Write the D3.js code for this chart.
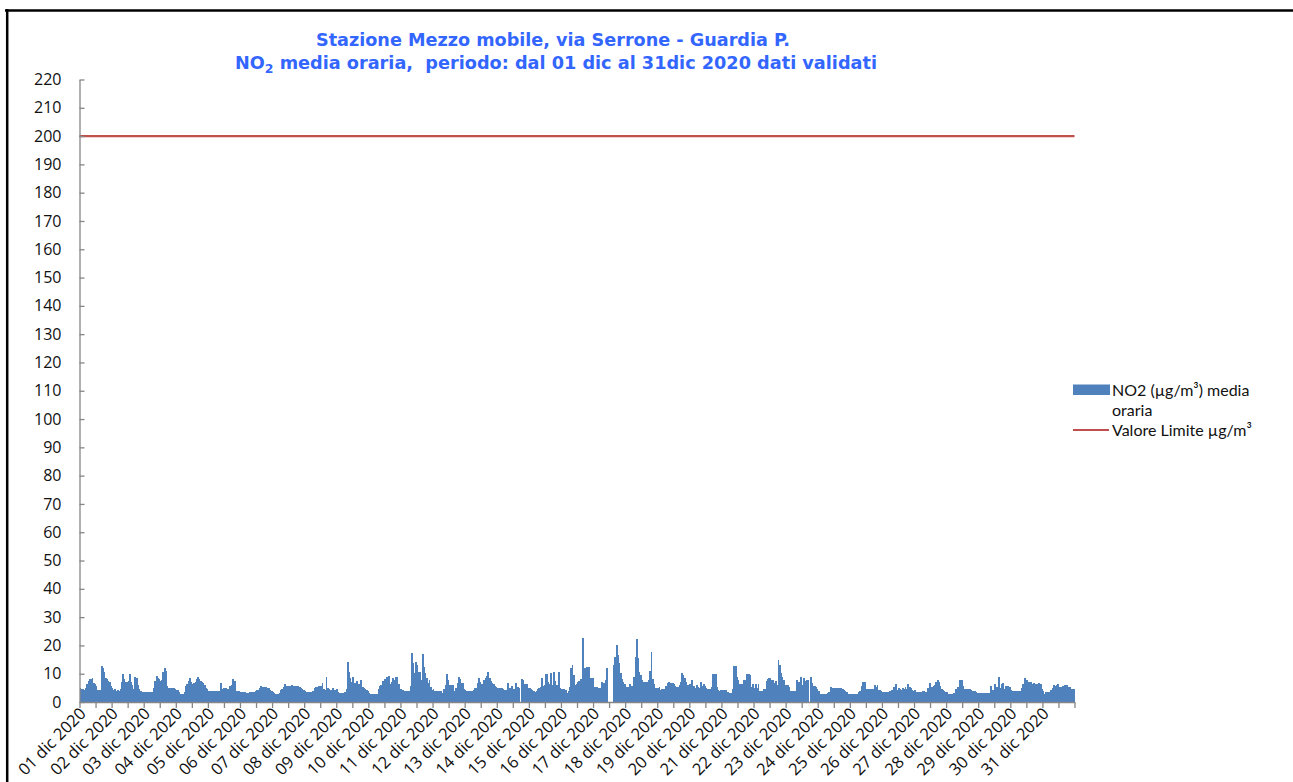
<!DOCTYPE html>
<html>
<head>
<meta charset="utf-8">
<script src="https://cdn.jsdelivr.net/npm/d3@7"></script>
<style>
  html, body { margin: 0; padding: 0; background: #fff; }
  svg { display: block; }
  text { white-space: pre; }
</style>
</head>
<body>
<svg id="chart" width="1293" height="782"></svg>
<script>
// ---------------- DATA ----------------
const titleLine1 = "Stazione Mezzo mobile, via Serrone - Guardia P.";
const titleLine2a = "NO";
const titleLine2sub = "2";
const titleLine2b = " media oraria,  periodo: dal 01 dic al 31dic 2020 dati validati";

const dayLabels = ["01 dic 2020","02 dic 2020","03 dic 2020","04 dic 2020","05 dic 2020","06 dic 2020",
  "07 dic 2020","08 dic 2020","09 dic 2020","10 dic 2020","11 dic 2020","12 dic 2020","13 dic 2020",
  "14 dic 2020","15 dic 2020","16 dic 2020","17 dic 2020","18 dic 2020","19 dic 2020","20 dic 2020",
  "21 dic 2020","22 dic 2020","23 dic 2020","24 dic 2020","25 dic 2020","26 dic 2020","27 dic 2020",
  "28 dic 2020","29 dic 2020","30 dic 2020","31 dic 2020"];

const yTickValues = [0,10,20,30,40,50,60,70,80,90,100,110,120,130,140,150,160,170,180,190,200,210,220];

const limitValue = 200;   // Valore Limite µg/m³
const seriesName = "NO2 (µg/m³) media";
const seriesName2 = "oraria";
const limitName = "Valore Limite µg/m³";

// NO2 hourly means (µg/m³), one row per day, 24 hours each (null = missing)
const no2ByDay = [
  [4.8,4.5,4.5,4.3,5,6.5,7.5,8,8.3,8.6,6.8,6.5,5.5,4.2,4.2,4.4,12.8,12,10.5,8.5,8,7.5,7,5.5],
  [5,4.2,4.5,4,4.3,4,4.5,7,10,8,7.2,7.2,7.5,9.9,7,6,4.5,9,8.5,6,4.5,3.8,3.4,3.4],
  [3.4,3.4,3.4,3.4,3.4,3.4,3.4,5,7.5,9.3,8.5,8,7.5,7.8,10.5,11.9,11,5.5,5,4.8,4.8,4.8,5,4.5],
  [4.2,4.2,3.5,3,2.8,3,3.5,5.5,6.5,7.5,8.5,7,6.5,6.8,7,8.2,8.7,8,7.5,7.2,6.8,6,5,4.5],
  [4,3.9,3.8,3.8,3.8,3.8,3.9,3.9,3.9,6.6,4.5,5,4.8,4.8,4.5,4.5,5.5,6,8.3,7.5,7.5,4,4,3.8],
  [3.6,3.6,3.5,3.4,3.3,3.3,3.3,3.4,3.4,3.5,3.6,3.8,4.2,4.3,4.8,5.6,5.3,5.3,5.3,5.3,5.1,4.8,4.3,3.8],
  [3.5,3.2,3,2.8,2.8,3.3,4.2,4.6,5.2,6.2,5.5,5.7,5.8,5.6,6.1,5.6,5.6,5.7,5.4,5.6,5.2,4.9,4.6,4.3],
  [3.9,3.6,3.6,3.5,3.5,3.7,4,4.8,5.2,5.3,5.5,5.6,5.8,6.6,4.5,4.3,8.7,5,4.5,4.3,4.3,4.8,4.2,4.2],
  [4.6,3.6,3.3,3.3,3.3,3.3,3.4,4.5,14.3,10.7,8.5,7.2,8.7,6.6,6.8,7.5,6.5,6.3,7.8,5.2,5,4.6,4.3,3.8],
  [3.2,3,3,3,3,3,3,4.5,5.6,6,7.3,7.5,8,8.7,6.3,9.2,6.5,6.9,8.4,7.6,8.7,9,6.2,4.6],
  [4.5,4.1,4,4,4,4,3.9,5.5,17.2,13.7,10.1,14.2,13,10.7,10.5,7.8,16.8,12.2,10.4,8.4,6.6,7.8,5.4,4.2],
  [4.5,3.9,3.9,3.9,3.9,3.9,3.9,3.3,4.5,6,9.8,7.8,6,6,6,6,3.9,5,6.8,8.7,8,6.6,6.6,4.5],
  [4.2,4,3.9,3.8,3.8,3.8,4.2,4.8,4.8,6.6,8.6,7,6.2,6,7.8,8.5,9.2,10.7,8.5,7.5,6.8,6.2,5.8,5.4],
  [4.8,4.8,4.8,4.8,4.6,4.4,4.2,4.2,6.6,4.8,5,5.6,4.5,4.2,6.6,5.4,5,null,8,7.8,6.2,6.2,6.2,5],
  [4.8,4.6,4.4,3.8,3.6,4,4.6,5,5.4,8.4,5.5,6,9.9,9.9,7,6.5,10.4,6,10.7,7.5,6,6,10.7,4.8],
  [4.6,4.6,4.6,4.4,3.3,4,5.4,11.9,13,9.5,6,6.5,7,7.5,8,6.6,22.5,11.9,11.3,12.2,12.2,8,8.4,8.4],
  [5.4,5.4,5.4,4.8,4.8,4.8,7.2,6.8,6.8,7.8,11.9,null,null,null,null,13,16,20.1,16.6,13.7,10.1,8.2,7,6.2],
  [5.4,5.4,5.4,6.2,5.6,5.8,9,16,22.1,15.4,10.7,9.5,7.8,7.2,7.2,7.2,7.2,7.8,11,17.8,8,6.2,4.8,4.8],
  [4.8,5.4,4.2,4.5,4.5,4.5,5.5,6.6,7.2,6.6,6.6,6.6,6.4,5.6,5.4,5.4,6,7.2,10.4,9.5,8.5,7.2,6,6],
  [6.5,7.8,5.8,5.8,4.8,6,5.2,4.8,7.2,5.8,6.2,5.6,5,4.5,4.2,4.5,5.4,9.9,9.9,9.9,5.4,4.2,4,4.2],
  [4.2,4.2,4.2,4.2,3.5,3.3,3.3,3.3,4.5,12.7,12.7,9,7.8,6.5,5.4,6.5,7.8,7.8,9.9,9.9,9.9,9.5,5.4,6.4],
  [4.8,6.4,4.8,6.4,3.9,3.9,3.9,4.5,4.5,7.5,8,8.4,8.4,7.8,7.8,6.6,7.5,6,14.8,13,10.1,9,7.8,6],
  [6,6,5.2,3.9,3.9,3.9,3.9,3.9,7.8,7.2,5.5,8.7,6,8.4,7.5,7.8,7.8,null,8.7,6.6,5.8,5.8,5.2,4.5],
  [4,3,3,3,3,3,3,3.2,3.6,5.2,5,5,5,4.8,5,5,5,4.8,4.5,4.2,4,3.5,2.8,2.8],
  [2.8,2.8,2.8,2.8,2.8,2.8,3.6,4,5.5,7.2,7.2,7.2,4.6,4.6,4.6,4.6,4.6,4.6,6,5.2,6,4.2,4.2,4],
  [3.6,3.6,3.6,3.4,3.6,4,4,4.2,5.4,5.4,6.4,4.2,4.8,4.5,4.2,4.8,4.6,5.2,4.5,6.4,5.4,5,4.2,4],
  [4.2,3.6,3.6,3.6,3.6,3.6,4,3.9,3.6,3.6,4.8,6.8,5.4,5.2,5.8,6,7.2,7.8,7.2,5.5,4.5,4.2,3.8,3.6],
  [3.6,3,3,3,3,3.3,3.3,4.5,5.2,5.2,7.8,7.8,5.6,4.5,4.6,4.5,4.5,4.6,4.2,4,4,4,3.6,3.3],
  [3.3,3.3,3.3,3.3,3.3,3.3,3.3,3.3,3.3,5.6,4.2,4.2,6.4,5.2,5.2,9,5,6.2,6.6,4.5,5.6,5.6,5.6,5.2],
  [4.2,4,4,4,4,4,4,4,5,6.4,8.4,7.8,7.8,7,6.6,7.2,6.4,6.8,6.4,6.4,6.4,6.8,6.4,4.5],
  [4,3,3.6,3.6,3.6,3.6,4.2,4.8,6,5.5,6,6.2,5.2,5.2,5.2,5.6,6,5.6,6,5.4,5.2,4.5,4.5,4.5]
];

// ---------------- DRAW ----------------
const hourly = no2ByDay.flat();
const nHours = hourly.length;

const svg = d3.select("#chart");
const FONT = "'Open Sans', 'DejaVu Sans', sans-serif";
const LEGEND_FONT = "Lato, 'Open Sans', sans-serif";
const BLUE = "#4F81BD";
const RED = "#C0504D";
const AXIS = "#868686";

const plot = { left: 79.5, right: 1074.5, top: 79.5, bottom: 702 };

// frame
svg.append("line").attr("x1", 5).attr("x2", 1293).attr("y1", 10.5).attr("y2", 10.5)
  .attr("stroke", "#000").attr("stroke-width", 2.5);
svg.append("line").attr("x1", 7.2).attr("x2", 7.2).attr("y1", 9).attr("y2", 782)
  .attr("stroke", "#000").attr("stroke-width", 2.5);

const xBand = d3.scaleBand().domain(d3.range(nHours)).range([plot.left, plot.right]).padding(0);
const xHour = d3.scaleLinear().domain([0, nHours]).range([plot.left, plot.right]);
const y = d3.scaleLinear().domain([0, 220]).range([plot.bottom, plot.top]);

// bars
svg.append("g").attr("shape-rendering", "crispEdges").selectAll("rect")
  .data(hourly.map((v, i) => ({ v, i })).filter(d => d.v != null))
  .join("rect")
  .attr("x", d => xBand(d.i))
  .attr("width", xBand.bandwidth() + 0.5)
  .attr("y", d => y(d.v))
  .attr("height", d => y(0) - y(d.v))
  .attr("fill", BLUE);

// limit line
svg.append("line")
  .attr("x1", plot.left).attr("x2", plot.right)
  .attr("y1", y(limitValue)).attr("y2", y(limitValue))
  .attr("stroke", RED).attr("stroke-width", 2.2);

// y axis
const yAxis = svg.append("g")
  .attr("transform", `translate(${plot.left},0)`)
  .call(d3.axisLeft(y).tickValues(yTickValues).tickSizeInner(-5).tickSizeOuter(0).tickPadding(18));
yAxis.select(".domain").attr("stroke", AXIS).attr("stroke-width", 1.3);
yAxis.selectAll(".tick line").attr("stroke", AXIS).attr("stroke-width", 1.3);
yAxis.selectAll("text").attr("font-family", FONT).attr("font-size", 16).attr("fill", "#111");

// x axis (tick every 12 hours, label every day)
const xTicks = d3.range(0, nHours + 1, 12);
const xAxis = svg.append("g")
  .attr("transform", `translate(0,${plot.bottom})`)
  .call(d3.axisBottom(xHour).tickValues(xTicks).tickSizeInner(6).tickSizeOuter(0)
    .tickFormat(h => (h % 24 === 0 && h / 24 < dayLabels.length) ? dayLabels[h / 24] : ""));
xAxis.select(".domain").attr("stroke", AXIS).attr("stroke-width", 1.3);
xAxis.selectAll(".tick line").attr("stroke", AXIS).attr("stroke-width", 1.3);
xAxis.selectAll("text")
  .attr("font-family", FONT).attr("font-size", 16.5).attr("fill", "#111")
  .attr("text-anchor", "end")
  .attr("x", -4).attr("y", 8).attr("dy", "0.35em")
  .attr("transform", "rotate(-45)");

// title
const title = svg.append("g").attr("font-family", "'DejaVu Sans Condensed', 'DejaVu Sans', sans-serif")
  .attr("font-weight", "bold").attr("fill", "#3366FF");
title.append("text").attr("x", 316).attr("y", 46).attr("font-size", 17)
  .attr("textLength", 474).attr("lengthAdjust", "spacingAndGlyphs")
  .text(titleLine1);
const t2 = title.append("text").attr("x", 235).attr("y", 69).attr("font-size", 17)
  .attr("textLength", 642).attr("lengthAdjust", "spacingAndGlyphs");
t2.append("tspan").text(titleLine2a);
t2.append("tspan").attr("dy", 4).attr("font-size", 12).text(titleLine2sub);
t2.append("tspan").attr("dy", -4).text(titleLine2b);

// legend
const lg = svg.append("g").attr("font-family", LEGEND_FONT).attr("font-size", 16).attr("fill", "#111");
lg.append("rect").attr("x", 1073).attr("y", 384.5).attr("width", 37).attr("height", 10.5).attr("fill", BLUE);
lg.append("text").attr("x", 1112).attr("y", 395.5).text(seriesName);
lg.append("text").attr("x", 1112).attr("y", 415.5).text(seriesName2);
lg.append("line").attr("x1", 1073).attr("x2", 1109).attr("y1", 430).attr("y2", 430)
  .attr("stroke", RED).attr("stroke-width", 2.2);
lg.append("text").attr("x", 1112).attr("y", 435.5).text(limitName);
</script>
</body>
</html>
